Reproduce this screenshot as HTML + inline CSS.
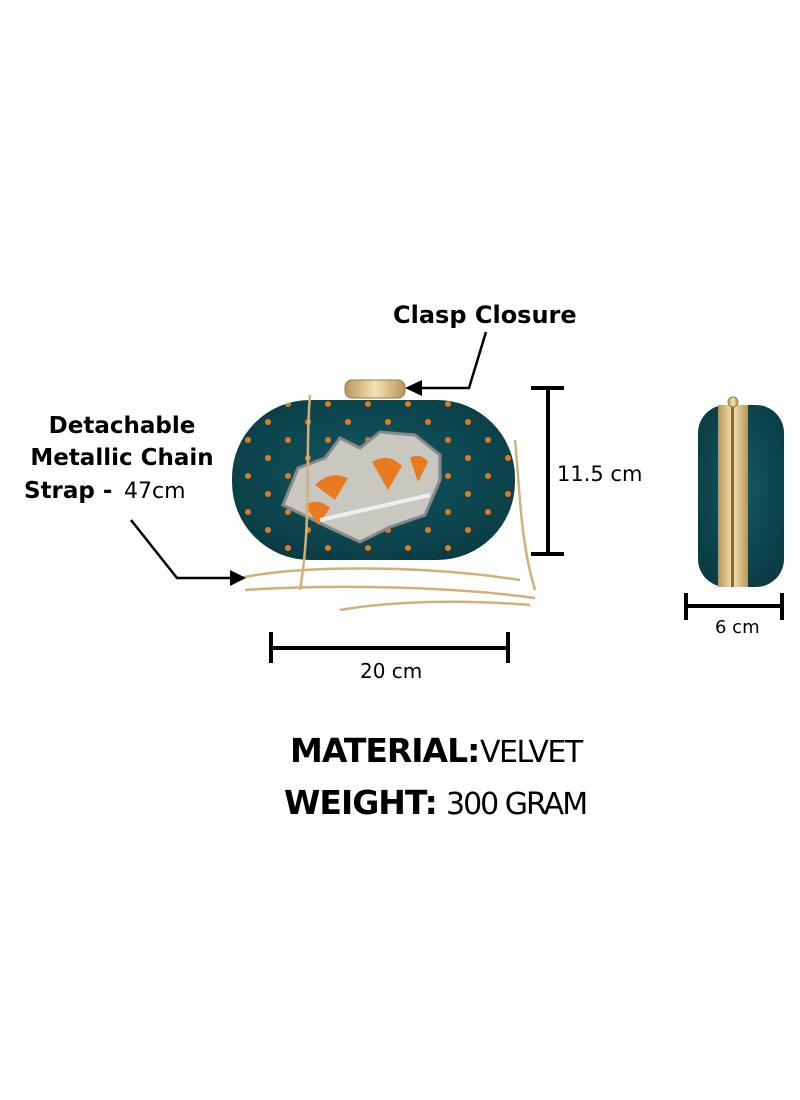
<!DOCTYPE html>
<html><head><style>
html,body{margin:0;padding:0;background:#fff;width:800px;height:1100px;overflow:hidden}
svg{display:block}
text{font-family:"DejaVu Sans","Liberation Sans",sans-serif;fill:#000}
</style></head><body>
<svg width="800" height="1100" viewBox="0 0 800 1100" xmlns="http://www.w3.org/2000/svg">
<defs>
<radialGradient id="tv" cx="50%" cy="45%" r="60%">
<stop offset="0" stop-color="#125a63"/><stop offset="1" stop-color="#0a3c44"/>
</radialGradient>
<linearGradient id="gold" x1="0" y1="0" x2="1" y2="0">
<stop offset="0" stop-color="#b8965a"/><stop offset="0.5" stop-color="#f3e3b3"/><stop offset="1" stop-color="#b8965a"/>
</linearGradient>
<pattern id="dots" width="40" height="36" patternUnits="userSpaceOnUse">
<circle cx="8" cy="8" r="3" fill="#e07a22"/><circle cx="28" cy="26" r="3" fill="#e07a22"/>
</pattern>
</defs>
<rect x="232" y="400" width="283" height="160" rx="78" fill="url(#tv)"/>
<rect x="232" y="400" width="283" height="160" rx="78" fill="url(#dots)"/>
<path d="M283 505 L298 468 L325 458 L340 438 L360 448 L380 432 L415 435 L440 455 L440 480 L425 515 L390 527 L360 542 L330 528 Z" fill="#c8c8c0" stroke="#888" stroke-width="3"/>
<path d="M315 485 Q330 470 348 478 L335 500 Z" fill="#e87a22"/>
<path d="M372 462 Q388 452 402 466 L388 490 Z" fill="#e87a22"/>
<path d="M410 458 Q420 452 428 462 L418 482 Z" fill="#e87a22"/>
<path d="M305 505 Q318 497 330 508 L318 525 Z" fill="#e87a22"/>
<path d="M320 520 L430 495" stroke="#eee" stroke-width="4"/>
<rect x="345" y="380" width="60" height="18" rx="7" fill="url(#gold)" stroke="#9a7a40"/>
<g fill="none" stroke="#d1b07a" stroke-width="2.5">
<path d="M310 395 C305 450 312 520 300 590"/>
<path d="M515 440 C520 490 520 540 535 590"/>
<path d="M240 578 C300 565 420 565 520 580"/>
<path d="M245 590 C320 585 440 585 535 598"/>
<path d="M340 610 C400 600 470 600 530 605"/>
</g>
<rect x="698" y="405" width="86" height="182" rx="28" fill="url(#tv)"/>
<rect x="718" y="405" width="30" height="182" fill="url(#gold)"/>
<rect x="731" y="405" width="3" height="182" fill="#8a6a30"/>
<circle cx="733" cy="402" r="5" fill="url(#gold)" stroke="#9a7a40"/>
<g stroke="#000" stroke-width="4">
<line x1="548" y1="388" x2="548" y2="554"/>
<line x1="531" y1="388" x2="564" y2="388"/>
<line x1="531" y1="554" x2="564" y2="554"/>
<line x1="271" y1="648" x2="508" y2="648"/>
<line x1="271" y1="632" x2="271" y2="663"/>
<line x1="508" y1="632" x2="508" y2="663"/>
<line x1="686" y1="606" x2="782" y2="606"/>
<line x1="686" y1="593" x2="686" y2="620"/>
<line x1="782" y1="593" x2="782" y2="620"/>
</g>
<g stroke="#000" stroke-width="2.5" fill="none">
<polyline points="486,332 469,388 420,388"/>
<polyline points="131,520 177,578 232,578"/>
</g>
<polygon points="405,388 422,380 422,396" fill="#000"/>
<polygon points="246,578 230,570 230,586" fill="#000"/>
<text x="393" y="323" font-size="24" font-weight="bold">Clasp Closure</text>
<text x="122" y="433" font-size="23" font-weight="bold" text-anchor="middle">Detachable</text>
<text x="122" y="465" font-size="23" font-weight="bold" text-anchor="middle">Metallic Chain</text>
<text x="24" y="498" font-size="23" font-weight="bold">Strap -</text><text x="124" y="498" font-size="22">47cm</text>
<text x="557" y="481" font-size="21">11.5 cm</text>
<text x="360" y="678" font-size="20">20 cm</text>
<text x="715" y="633" font-size="18">6 cm</text>
<text x="290" y="762" font-size="33" font-weight="bold" letter-spacing="-1">MATERIAL:</text>
<text x="480" y="762" font-size="30" letter-spacing="-1.5">VELVET</text>
<text x="284" y="814" font-size="33" font-weight="bold" letter-spacing="-1">WEIGHT:</text>
<text x="446" y="814" font-size="30" letter-spacing="-2">300 GRAM</text>
</svg>
</body></html>
